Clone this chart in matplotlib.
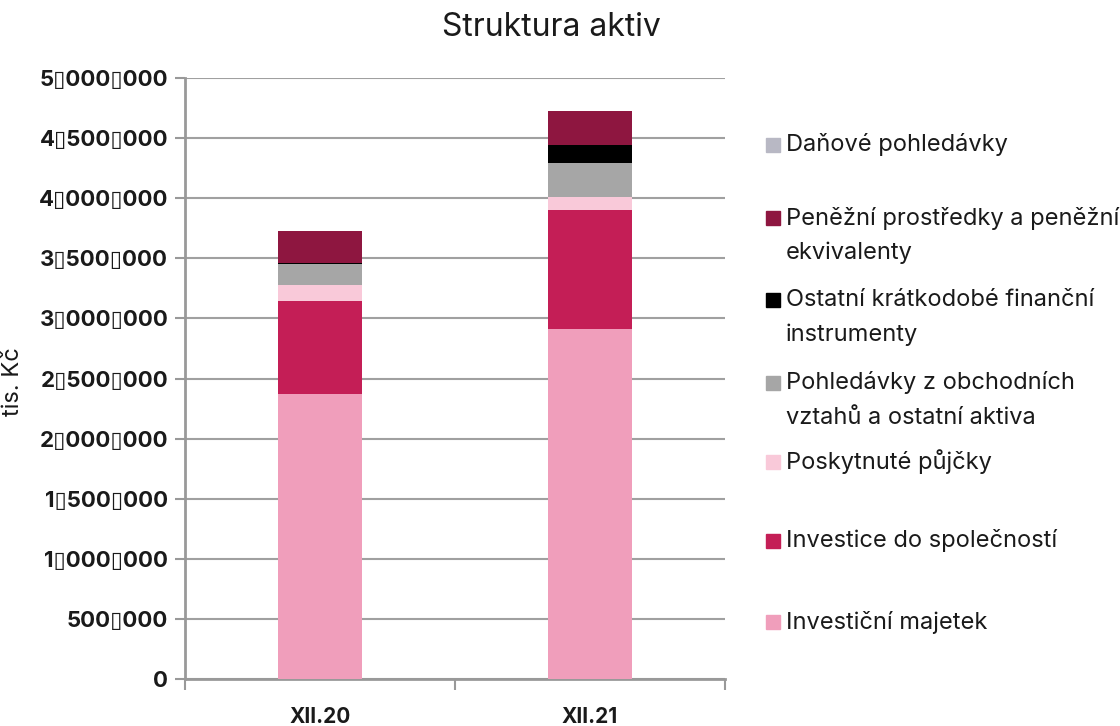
import matplotlib
matplotlib.use("Agg")
import matplotlib.pyplot as plt
from matplotlib.patches import Rectangle
from matplotlib.ticker import FuncFormatter, FixedLocator

plt.rcParams['font.family'] = ['Inter', 'DejaVu Sans']

# data (tis. Kč)
obdobi = ["XII.20", "XII.21"]
investicni_majetek = [2371000, 2912000]
investice_spol = [774000, 990000]
poskytnute_pujcky = [133000, 108000]
pohledavky_obch = [175000, 283000]
ostatni_fin = [12000, 150000]
penezni_prostredky = [262000, 283000]
danove_pohledavky = [3000, 3000]

serie = [
    ("Investiční majetek", investicni_majetek, "#F09EBB"),
    ("Investice do společností", investice_spol, "#C41E56"),
    ("Poskytnuté půjčky", poskytnute_pujcky, "#F9C9D9"),
    ("Pohledávky z obchodních\nvztahů a ostatní aktiva", pohledavky_obch, "#A6A6A6"),
    ("Ostatní krátkodobé finanční\ninstrumenty", ostatni_fin, "#000000"),
    ("Peněžní prostředky a peněžní\nekvivalenty", penezni_prostredky, "#8E1640"),
    ("Daňové pohledávky", danove_pohledavky, "#B8B8C4"),
]

txt = "#1a1a1a"
fig = plt.figure(figsize=(11.2, 7.26), dpi=100)
ax = fig.add_axes([185/1120, 1-679/726, 540/1120, 601/726])

x = range(len(obdobi))
spodek = [0, 0]
for nazev, hodnoty, barva in serie:
    ax.bar(x, hodnoty, width=0.31, bottom=spodek, color=barva, zorder=3)
    spodek = [s + h for s, h in zip(spodek, hodnoty)]

ax.set_xlim(-0.5, 1.5)
ax.set_ylim(0, 5000000)
ax.set_yticks(range(0, 5000001, 500000))
ax.yaxis.set_major_formatter(FuncFormatter(lambda v, p: f"{int(v):,}".replace(",", "\u25af")))
ax.grid(axis='y', color="#A0A0A0", linewidth=1.5, zorder=0)
ax.set_xticks(list(x))
ax.set_xticklabels(obdobi, fontsize=15, fontweight='bold', color=txt)
ax.xaxis.set_minor_locator(FixedLocator([-0.5, 0.5, 1.5]))
ax.tick_params(axis='x', which='major', length=0, pad=20)
ax.tick_params(axis='x', which='minor', length=8, width=1.5, color="#999999")
ax.tick_params(axis='y', length=7, width=1.5, color="#999999", pad=5,
               labelsize=16, labelcolor=txt)
for lab in ax.get_yticklabels():
    lab.set_fontweight('bold')
for s in ['top', 'right']:
    ax.spines[s].set_visible(False)
for s in ['left', 'bottom']:
    ax.spines[s].set_color("#999999")
    ax.spines[s].set_linewidth(2)
ax.set_ylabel("tis. Kč", fontsize=17, color=txt)
ax.yaxis.set_label_coords(-0.298, 0.495)

fig.text(551/1120, 1-27/726, "Struktura aktiv", ha='center', va='center', fontsize=23, color=txt)

# legend, top to bottom (reverse of stacking)
legenda_y = [145, 218, 300, 383, 462, 541, 622]
for (nazev, hodnoty, barva), ly in zip(serie[::-1], legenda_y):
    fig.patches.append(Rectangle((766/1120, 1-(ly+7)/726), 14/1120, 14/726,
                                 transform=fig.transFigure, color=barva))
    for i, radek in enumerate(nazev.split("\n")):
        fig.text(786/1120, 1-(ly + 35*i)/726, radek, ha='left', va='center',
                 fontsize=17, color=txt)

fig.savefig("out.png", dpi=100)
